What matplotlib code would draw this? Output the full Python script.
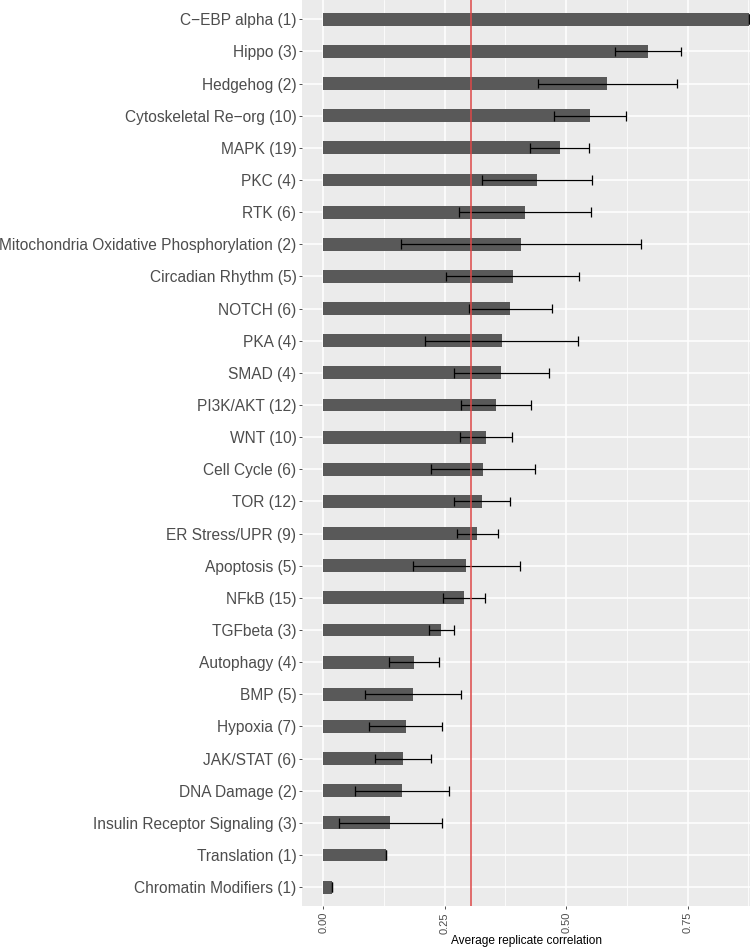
import numpy as np
import matplotlib.pyplot as plt

plt.rcParams['font.family'] = ['Liberation Sans', 'DejaVu Sans']

# pathways, top to bottom
pathways = ["C\u2212EBP alpha (1)", "Hippo (3)", "Hedgehog (2)", "Cytoskeletal Re\u2212org (10)",
            "MAPK (19)", "PKC (4)", "RTK (6)", "Mitochondria Oxidative Phosphorylation (2)",
            "Circadian Rhythm (5)", "NOTCH (6)", "PKA (4)", "SMAD (4)", "PI3K/AKT (12)",
            "WNT (10)", "Cell Cycle (6)", "TOR (12)", "ER Stress/UPR (9)", "Apoptosis (5)",
            "NFkB (15)", "TGFbeta (3)", "Autophagy (4)", "BMP (5)", "Hypoxia (7)",
            "JAK/STAT (6)", "DNA Damage (2)", "Insulin Receptor Signaling (3)",
            "Translation (1)", "Chromatin Modifiers (1)"]
mean_cor = [0.876, 0.669, 0.585, 0.549, 0.487, 0.440, 0.415, 0.407, 0.390, 0.385,
            0.367, 0.366, 0.356, 0.335, 0.329, 0.327, 0.317, 0.294, 0.289, 0.243,
            0.187, 0.185, 0.170, 0.164, 0.162, 0.138, 0.128, 0.018]
sd_cor = [0.0, 0.068, 0.144, 0.075, 0.061, 0.114, 0.136, 0.248, 0.137, 0.085,
          0.157, 0.098, 0.072, 0.054, 0.107, 0.057, 0.042, 0.110, 0.043, 0.025,
          0.051, 0.099, 0.075, 0.058, 0.097, 0.106, 0.0, 0.0]
threshold = 0.304

mean_cor = np.array(mean_cor)
sd_cor = np.array(sd_cor)
y = np.arange(len(pathways))[::-1] + 1

fig = plt.figure(figsize=(7.5, 9.48), dpi=100)
ax = fig.add_axes([0.4027, 0.0438, 0.5973, 0.9562])
ax.set_facecolor('#EBEBEB')

ax.barh(y, mean_cor, height=0.4, color='#595959', zorder=2)
lo = mean_cor - sd_cor
hi = mean_cor + sd_cor
ax.hlines(y, lo, hi, color='black', lw=0.9, zorder=3)
ax.vlines(lo, y - 0.15, y + 0.15, color='black', lw=0.9, zorder=3)
ax.vlines(hi, y - 0.15, y + 0.15, color='black', lw=0.9, zorder=3)
ax.axvline(threshold, color='#DD4848', lw=1.1, zorder=4)

ax.set_xlim(-0.0439, 0.8785)
ax.set_ylim(0.4, len(pathways) + 0.6)
ax.set_xticks([0, 0.25, 0.5, 0.75])
ax.set_xticklabels(['0.00', '0.25', '0.50', '0.75'], rotation=90)
ax.set_xticks([0.125, 0.375, 0.625, 0.875], minor=True)
ax.set_yticks(y)
ax.set_yticklabels(pathways)

ax.grid(which='major', color='white', lw=1.1, zorder=0)
ax.grid(which='minor', axis='x', color='white', lw=0.55, zorder=0)
ax.set_axisbelow(True)
for s in ax.spines.values():
    s.set_visible(False)
ax.tick_params(axis='both', which='major', length=2.5, width=0.6, color='#333333',
               labelcolor='#4D4D4D', pad=1.5)
ax.tick_params(axis='y', labelsize=11.2)
ax.tick_params(axis='x', labelsize=8)
ax.tick_params(which='minor', length=0)
ax.set_xlabel('Average replicate correlation', fontsize=8.6, color='black', labelpad=1)

fig.savefig('out.png', dpi=100)
